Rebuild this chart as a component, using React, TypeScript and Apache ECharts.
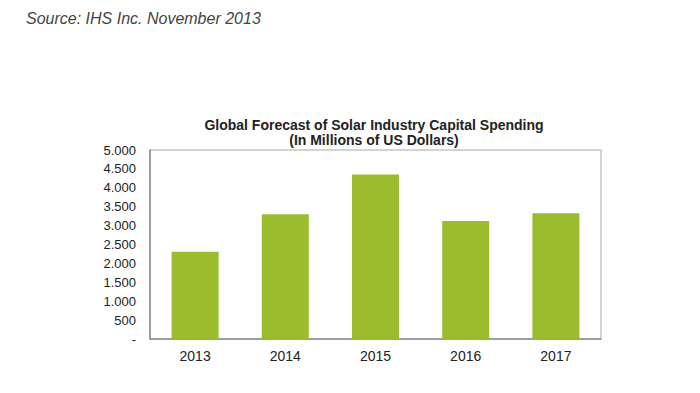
import React, { useEffect, useRef } from "react";
import * as echarts from "echarts";

const categories = ["2013", "2014", "2015", "2016", "2017"];
const spending = [2310, 3300, 4350, 3120, 3330];
const yTicks = [0, 500, 1000, 1500, 2000, 2500, 3000, 3500, 4000, 4500, 5000];
const titleLines = ["Global Forecast of Solar Industry Capital Spending", "(In Millions of US Dollars)"];
const sourceText = "Source: IHS Inc. November 2013";

const FONT = "'Liberation Sans', Arial, sans-serif";

export default function App() {
  const ref = useRef<HTMLDivElement>(null);
  useEffect(() => {
    if (!ref.current) return;
    const chart = echarts.init(ref.current, null, { renderer: "svg" });
    const fmt = (v: number) =>
      v === 0 ? "-" : v >= 1000 ? `${Math.floor(v / 1000)}.${String(v % 1000).padStart(3, "0")}` : String(v);
    chart.setOption({
      animation: false,
      backgroundColor: "#ffffff",
      textStyle: { fontFamily: FONT },
      title: {
        text: titleLines.join("\n"),
        left: 369,
        top: 112,
        textAlign: "center",
        textStyle: { fontSize: 14, fontWeight: "bold", color: "#222", lineHeight: 15, fontFamily: FONT },
      },
      graphic: [
        {
          type: "text",
          left: 26,
          top: 10,
          style: { text: sourceText, font: `italic 16px ${FONT}`, fill: "#444" },
        },
      ],
      grid: {
        left: 150,
        right: 99,
        top: 150,
        bottom: 54,
        show: true,
        borderColor: "#a8a8a8",
        borderWidth: 1,
      },
      xAxis: {
        type: "category",
        data: categories,
        axisLine: { lineStyle: { color: "#8c8c8c", width: 1.5 } },
        axisTick: { show: false },
        axisLabel: { fontSize: 14, color: "#222", margin: 10, fontFamily: FONT },
      },
      yAxis: {
        type: "value",
        min: yTicks[0],
        max: yTicks[yTicks.length - 1],
        interval: 500,
        axisLine: { show: true, lineStyle: { color: "#8c8c8c", width: 1.5 } },
        axisTick: { show: false },
        splitLine: { show: false },
        axisLabel: { fontSize: 13, color: "#222", margin: 14, formatter: fmt, fontFamily: FONT },
      },
      series: [
        {
          type: "bar",
          data: spending,
          barWidth: 47,
          itemStyle: { color: "#9abd2e" },
        },
      ],
    });
    return () => chart.dispose();
  }, []);
  return <div ref={ref} style={{ position: "fixed", left: 0, top: 0, width: 700, height: 393 }} />;
}
